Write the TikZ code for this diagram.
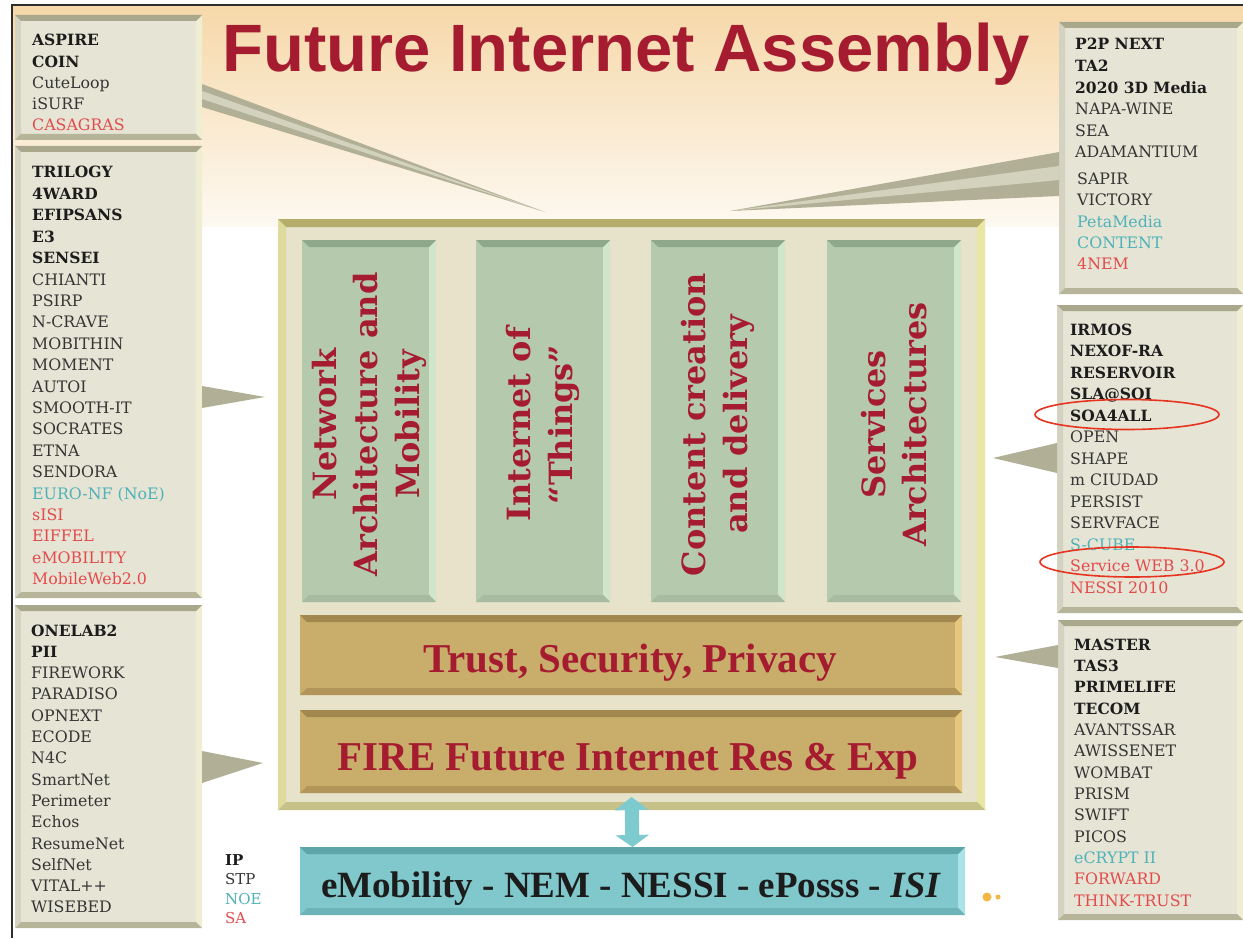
\documentclass[tikz,border=0pt]{standalone}
\usepackage{fontspec}
\setmainfont{Liberation Serif}
\newfontfamily\listfont{DejaVu Serif}
\newfontfamily\headfont{Liberation Sans}
\usetikzlibrary{arrows.meta,shapes.geometric,fit}
\definecolor{peach}{HTML}{F6D8A9}
\definecolor{peachmid}{HTML}{F9E8CB}
\definecolor{peachlow}{HTML}{FDF9F1}
\definecolor{framecol}{HTML}{2E2E2E}
\definecolor{boxfill}{HTML}{E6E4D5}
\definecolor{boxtop}{HTML}{A9A88C}
\definecolor{boxbot}{HTML}{B6B599}
\definecolor{boxright}{HTML}{EFEED3}
\definecolor{boxleft}{HTML}{D4D3C1}
\definecolor{wedgecol}{HTML}{B1B096}
\definecolor{wedgelight}{HTML}{D3D2BC}
\definecolor{bigfill}{HTML}{E6E3CA}
\definecolor{bigtop}{HTML}{B4AD6C}
\definecolor{bigright}{HTML}{EAE6A4}
\definecolor{bigbot}{HTML}{C5C188}
\definecolor{bigleft}{HTML}{DEDB9C}
\definecolor{pilfill}{HTML}{B5CAAC}
\definecolor{piltop}{HTML}{8FA78B}
\definecolor{pilright}{HTML}{CFE6CB}
\definecolor{pilbot}{HTML}{A6BB9F}
\definecolor{tanfill}{HTML}{C9AD6B}
\definecolor{tantop}{HTML}{A2884E}
\definecolor{tanright}{HTML}{E7C67D}
\definecolor{tanbot}{HTML}{B29659}
\definecolor{cyanfill}{HTML}{80C8CC}
\definecolor{cyantop}{HTML}{5EA5AA}
\definecolor{cyanright}{HTML}{AAE2E5}
\definecolor{cyanbot}{HTML}{6DB4B8}
\definecolor{arrowcol}{HTML}{7DCACF}
\definecolor{deepred}{HTML}{A51C31}
\definecolor{inkblack}{HTML}{1C1C1C}
\definecolor{inkgray}{HTML}{353535}
\definecolor{inkteal}{HTML}{4EB2B8}
\definecolor{inkred}{HTML}{E24B4B}
\definecolor{ringred}{HTML}{E63420}
\definecolor{dotorange}{HTML}{F4B743}

% #1 node, #2 top, #3 right, #4 bottom, #5 left, #6 depth
\newcommand\bevel[6]{%
  \fill[#5] (#1.north west) -- ([shift={(#6,#6)}]#1.north west) -- ([shift={(#6,-#6)}]#1.south west) -- (#1.south west) -- cycle;
  \fill[#3] (#1.north east) -- (#1.south east) -- ([shift={(-#6,-#6)}]#1.south east) -- ([shift={(-#6,#6)}]#1.north east) -- cycle;
  \fill[#4] (#1.south west) -- (#1.south east) -- ([shift={(-#6,-#6)}]#1.south east) -- ([shift={(#6,-#6)}]#1.south west) -- cycle;
  \fill[#2] (#1.north west) -- (#1.north east) -- ([shift={(-#6,#6)}]#1.north east) -- ([shift={(#6,#6)}]#1.north west) -- cycle;
}

\begin{document}
\begin{tikzpicture}[x=1pt,y=-1pt,
  listbox/.style={fill=boxfill, inner sep=0, outer sep=0},
  corebox/.style={fill=bigfill, inner sep=0, outer sep=0},
  pillarbox/.style={fill=pilfill, inner sep=0, outer sep=0},
  tanbox/.style={fill=tanfill, inner sep=0, outer sep=0},
  cyanbox/.style={fill=cyanfill, inner sep=0, outer sep=0},
  itemB/.style={font=\listfont\bfseries\fontsize{15.5}{18}\selectfont, text=inkblack, inner sep=0, anchor=base west},
  itemN/.style={font=\listfont\fontsize{15.8}{18}\selectfont, text=inkgray, inner sep=0, anchor=base west},
  itemT/.style={font=\listfont\fontsize{15.8}{18}\selectfont, text=inkteal, inner sep=0, anchor=base west},
  itemR/.style={font=\listfont\fontsize{15.8}{18}\selectfont, text=inkred, inner sep=0, anchor=base west},
  legend/.style={font=\listfont\fontsize{15}{17}\selectfont, inner sep=0, anchor=base west},
  pilltext/.style={rotate=90, align=center, text=deepred, inner sep=0,
     font=\listfont\bfseries\fontsize{32}{41.5}\selectfont},
  bandtext/.style={font=\bfseries\fontsize{41}{44}\selectfont, text=deepred, inner sep=0, anchor=base},
  wedgefill/.style={fill=wedgecol},
  ring/.style={ellipse, draw=ringred, line width=1.6pt, inner sep=0, minimum width=184pt, minimum height=30pt}
]
\useasboundingbox (0,0) rectangle (1243,939);
\fill[white] (0,0) rectangle (1243,939);
% slide background
\shade[top color=peach, middle color=peachmid, bottom color=peachlow] (12,5) rectangle (1243,226);
\draw[framecol, line width=2pt] (12,938) -- (12,5) -- (1243,5);

% title
\node[font=\headfont\bfseries\fontsize{67}{70}\selectfont, text=deepred, anchor=base west, inner sep=0] (title) at (222,72) {Future Internet Assembly};

% list boxes
\node[listbox, fit={(15,15)(202,140)}] (bTL) {};
\node[listbox, fit={(15,146)(202,598)}] (bLM) {};
\node[listbox, fit={(15,605)(202,928)}] (bLB) {};
\node[listbox, fit={(1059,22)(1243,294)}] (bRT) {};
\node[listbox, fit={(1057,305)(1243,613)}] (bRM) {};
\node[listbox, fit={(1058,620)(1243,920)}] (bRB) {};
\foreach \bx in {bTL,bLM,bLB,bRT,bRM,bRB}{\bevel{\bx}{boxtop}{boxright}{boxbot}{boxleft}{6}}

% central block
\node[corebox, fit={(278,219)(985,810)}] (core) {};
\bevel{core}{bigtop}{bigright}{bigbot}{bigleft}{8}

% pillars
\node[pillarbox, fit={(302,240)(436,602)}] (p1) {};
\node[pillarbox, fit={(476,240)(610,602)}] (p2) {};
\node[pillarbox, fit={(651,240)(785,602)}] (p3) {};
\node[pillarbox, fit={(827,240)(961,602)}] (p4) {};
\foreach \px in {p1,p2,p3,p4}{\bevel{\px}{piltop}{pilright}{pilbot}{pilfill}{7}}
\node[pilltext, xshift=-3.5pt] (p1t) at (p1.center) {Network\\Architecture and\\Mobility};
\node[pilltext, xshift=-3.5pt] (p2t) at (p2.center) {Internet of\\“Things”};
\node[pilltext, xshift=-3.5pt] (p3t) at (p3.center) {Content creation\\and delivery};
\node[pilltext, xshift=-3.5pt] (p4t) at (p4.center) {Services\\Architectures};

% horizontal bands
\node[tanbox, fit={(300,615)(962,695)}] (trust) {};
\node[tanbox, fit={(300,710)(962,793)}] (fire) {};
\bevel{trust}{tantop}{tanright}{tanbot}{tanfill}{7}
\bevel{fire}{tantop}{tanright}{tanbot}{tanfill}{7}
\node[bandtext] (trustt) at (630,672) {Trust, Security, Privacy};
\node[bandtext] (firet) at (628,770) {FIRE Future Internet Res \& Exp};

% bottom bus bar
\node[cyanbox, fit={(300,847)(965,915)}] (bus) {};
\bevel{bus}{cyantop}{cyanright}{cyanbot}{cyanfill}{7}
\node[font=\bfseries\fontsize{37}{40}\selectfont, text=inkblack, inner sep=0, anchor=base] (bust) at (631,897) {eMobility - NEM - NESSI - ePosss - \textit{ISI}};

% double arrow
\draw[arrowcol, line width=14pt, {Triangle[width=33pt,length=13pt]}-{Triangle[width=33pt,length=12pt]}] ([yshift=13pt]core.south) -- (bus.north);

% callout wedges
\coordinate (tipTL) at (545,212);
\coordinate (tipTR) at (730,211);
\coordinate (tipLM) at (265,397);
\coordinate (tipLB) at (263,763);
\coordinate (tipRM) at (993,458);
\coordinate (tipRB) at (995,657);
\fill[wedgefill] (bTL.east |- 0,84) -- (tipTL) -- (bTL.east |- 0,107) -- cycle;
\fill[wedgelight] (bTL.east |- 0,91) -- (tipTL) -- (bTL.east |- 0,99) -- cycle;
\fill[wedgefill] (bRT.west |- 0,152) -- (tipTR) -- (bRT.west |- 0,196) -- cycle;
\fill[wedgelight] (bRT.west |- 0,166) -- (tipTR) -- (bRT.west |- 0,180) -- cycle;
\fill[wedgefill] (bLM.east |- 0,386) -- (tipLM) -- (bLM.east |- 0,408) -- cycle;
\fill[wedgefill] (bLB.east |- 0,751) -- (tipLB) -- (bLB.east |- 0,783) -- cycle;
\fill[wedgefill] (bRM.west |- 0,443) -- (tipRM) -- (bRM.west |- 0,473) -- cycle;
\fill[wedgefill] (bRB.west |- 0,645) -- (tipRB) -- (bRB.west |- 0,668) -- cycle;

% lists
\foreach \txt/\sty [count=\i] in {ASPIRE/B,COIN/B,CuteLoop/N,iSURF/N,CASAGRAS/R}
  \node[item\sty] (tl\i) at (32,{46+(\i-1)*21.25}) {\txt};
\foreach \txt/\sty [count=\i] in {TRILOGY/B,4WARD/B,EFIPSANS/B,E3/B,SENSEI/B,CHIANTI/N,PSIRP/N,N-CRAVE/N,MOBITHIN/N,MOMENT/N,AUTOI/N,SMOOTH-IT/N,SOCRATES/N,ETNA/N,SENDORA/N,EURO-NF (NoE)/T,sISI/R,EIFFEL/R,eMOBILITY/R,MobileWeb2.0/R}
  \node[item\sty] (lm\i) at (32,{178+(\i-1)*21.4}) {\txt};
\foreach \txt/\sty [count=\i] in {ONELAB2/B,PII/B,FIREWORK/N,PARADISO/N,OPNEXT/N,ECODE/N,N4C/N,SmartNet/N,Perimeter/N,Echos/N,ResumeNet/N,SelfNet/N,VITAL++/N,WISEBED/N}
  \node[item\sty] (lb\i) at (31,{636+(\i-1)*21.3}) {\txt};
\foreach \txt/\sty [count=\i] in {P2P NEXT/B,TA2/B,2020 3D Media/B,NAPA-WINE/N,SEA/N,ADAMANTIUM/N}
  \node[item\sty] (rt\i) at (1075,{50+(\i-1)*21.6}) {\txt};
\foreach \txt/\sty [count=\i] in {SAPIR/N,VICTORY/N,PetaMedia/T,CONTENT/T,4NEM/R}
  \node[item\sty] (rs\i) at (1077,{185+(\i-1)*21}) {\txt};
\foreach \txt/\sty [count=\i] in {IRMOS/B,NEXOF-RA/B,RESERVOIR/B,SLA@SOI/B,SOA4ALL/B,OPEN/N,SHAPE/N,m CIUDAD/N,PERSIST/N,SERVFACE/N,S-CUBE/T,Service WEB 3.0/R,NESSI 2010/R}
  \node[item\sty] (rm\i) at (1070,{335+(\i-1)*21.5}) {\txt};
\foreach \txt/\sty [count=\i] in {MASTER/B,TAS3/B,PRIMELIFE/B,TECOM/B,AVANTSSAR/N,AWISSENET/N,WOMBAT/N,PRISM/N,SWIFT/N,PICOS/N,eCRYPT II/T,FORWARD/R,THINK-TRUST/R}
  \node[item\sty] (rb\i) at (1074,{650+(\i-1)*21.35}) {\txt};

% legend
\node[legend, text=inkblack, font=\listfont\bfseries\fontsize{15}{17}\selectfont] (lgIP) at (225,865) {IP};
\node[legend, text=inkgray] (lgSTP) at (225,884) {STP};
\node[legend, text=inkteal] (lgNOE) at (225,904) {NOE};
\node[legend, text=inkred] (lgSA) at (225,923) {SA};

% highlight rings
\node[ring] (ring1) at (1127,414.5) {};
\node[ring] (ring2) at (1132,562) {};

% small dots
\fill[dotorange] (987,897) circle (4.5);
\fill[dotorange] (998,897) circle (2.5);
\end{tikzpicture}
\end{document}
